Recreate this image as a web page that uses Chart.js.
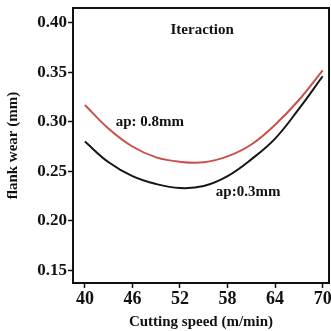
<!DOCTYPE html>
<html>
<head>
<meta charset="utf-8">
<script src="https://cdn.jsdelivr.net/npm/chart.js@4.4.1/dist/chart.umd.min.js"></script>
<style>
  html, body { margin: 0; padding: 0; background: #fff; }
  #wrap { width: 331px; height: 331px; }
</style>
</head>
<body>
<div id="wrap"><canvas id="chart" width="331" height="331"></canvas></div>
<script>
    // cutting speed (m/min)
    const speeds = [40, 43, 46, 49, 52, 55, 58, 61, 64, 67, 70];
    // flank wear (mm)
    const wearDeep = [0.317, 0.293, 0.275, 0.264, 0.2595, 0.259, 0.265, 0.277, 0.297, 0.322, 0.352];   // ap 0.8mm
    const wearShallow = [0.280, 0.259, 0.245, 0.237, 0.233, 0.235, 0.245, 0.262, 0.283, 0.313, 0.346]; // ap 0.3mm
    const xTicks = [40, 46, 52, 58, 64, 70];
    const yTicks = [0.15, 0.20, 0.25, 0.30, 0.35, 0.40];

    // text placed in data coordinates
    const notes = [
        { text: "Iteraction", x: 54.8, y: 0.393 },
        { text: "ap: 0.8mm", x: 48.2, y: 0.300 },
        { text: "ap:0.3mm", x: 60.6, y: 0.229 }
    ];

    const serif = "'Liberation Serif', 'DejaVu Serif', serif";

    function toPoints(ys) {
        return speeds.map((s, i) => ({ x: s, y: ys[i] }));
    }

    const framePlugin = {
        id: 'frame',
        afterDatasetsDraw(chart) {
            const c = chart.ctx, a = chart.chartArea;
            c.save();
            c.strokeStyle = '#111';
            c.lineWidth = 2;
            c.strokeRect(a.left, a.top, a.right - a.left, a.bottom - a.top);
            c.fillStyle = '#111';
            c.font = 'bold 15px ' + serif;
            c.textAlign = 'center';
            c.textBaseline = 'middle';
            notes.forEach(n => {
                c.fillText(n.text, chart.scales.x.getPixelForValue(n.x), chart.scales.y.getPixelForValue(n.y));
            });
            c.restore();
        }
    };

    const ctx = document.getElementById('chart').getContext('2d');
    const chart = new Chart(ctx, {
        type: 'line',
        data: {
            datasets: [{
                label: 'ap: 0.8mm',
                data: toPoints(wearDeep),
                borderColor: '#c9504c',
                borderWidth: 2,
                pointRadius: 0,
                tension: 0.4,
                fill: false
            }, {
                label: 'ap:0.3mm',
                data: toPoints(wearShallow),
                borderColor: '#151515',
                borderWidth: 2,
                pointRadius: 0,
                tension: 0.4,
                fill: false
            }]
        },
        options: {
            responsive: false,
            animation: false,
            layout: { padding: { top: 8, right: 2, left: 0, bottom: 0 } },
            plugins: { legend: { display: false }, tooltip: { enabled: false } },
            scales: {
                x: {
                    type: 'linear',
                    min: 38.5,
                    max: 70.8,
                    afterBuildTicks(scale) { scale.ticks = xTicks.map(v => ({ value: v })); },
                    afterFit(scale) { scale.height = 48; scale.paddingLeft = 0; scale.paddingRight = 0; },
                    grid: { display: true, drawOnChartArea: false, tickLength: 5, color: '#111', tickWidth: 1.5 },
                    border: { color: '#111', width: 2 },
                    ticks: {
                        color: '#111',
                        padding: 1,
                        maxRotation: 0,
                        autoSkip: false,
                        font: { family: serif, size: 18, weight: 'bold' }
                    },
                    title: {
                        display: true,
                        text: 'Cutting speed (m/min)',
                        color: '#111',
                        padding: { top: 0, bottom: 0 },
                        font: { family: serif, size: 15, weight: 'bold' }
                    }
                },
                y: {
                    min: 0.137,
                    max: 0.415,
                    afterBuildTicks(scale) { scale.ticks = yTicks.map(v => ({ value: v })); },
                    afterFit(scale) { scale.width = 73; scale.paddingTop = 0; scale.paddingBottom = 0; },
                    grid: { display: true, drawOnChartArea: false, tickLength: 5, color: '#111', tickWidth: 1.5 },
                    border: { color: '#111', width: 2 },
                    ticks: {
                        color: '#111',
                        padding: 1,
                        autoSkip: false,
                        font: { family: serif, size: 17, weight: 'bold' },
                        callback: v => v.toFixed(2)
                    },
                    title: {
                        display: true,
                        text: 'flank wear (mm)',
                        color: '#111',
                        padding: { top: 4, bottom: 0 },
                        font: { family: serif, size: 15, weight: 'bold' }
                    }
                }
            }
        },
        plugins: [framePlugin]
    });
</script>
</body>
</html>
